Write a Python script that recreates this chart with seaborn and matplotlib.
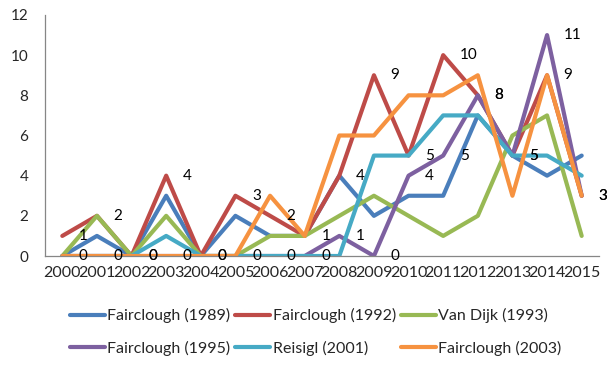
import pandas as pd
import matplotlib.pyplot as plt
import seaborn as sns
import numpy as np

# --- data ---
years = list(range(2000, 2016))
series_names = ["Fairclough (1989)", "Fairclough (1992)", "Van Dijk (1993)",
                "Fairclough (1995)", "Reisigl (2001)", "Fairclough (2003)"]

fairclough_1989 = [0, 1, 0, 3, 0, 2, 1, 1, 4, 2, 3, 3, 7, 5, 4, 5]
fairclough_1992 = [1, 2, 0, 4, 0, 3, 2, 1, 4, 9, 5, 10, 8, 5, 9, 3]
van_dijk_1993 = [0, 2, 0, 2, 0, 0, 1, 1, 2, 3, 2, 1, 2, 6, 7, 1]
fairclough_1995 = [0, 0, 0, 0, 0, 0, 0, 0, 1, 0, 4, 5, 8, 5, 11, 3]
reisigl_2001 = [0, 0, 0, 1, 0, 0, 0, 0, 0, 5, 5, 7, 7, 5, 5, 4]
fairclough_2003 = [0, 0, 0, 0, 0, 0, 3, 1, 6, 6, 8, 8, 9, 3, 9, 3]

colors = ["#4a7ebb", "#be4b48", "#98b954", "#7d60a0", "#46aac5", "#f69240"]

all_values = [fairclough_1989, fairclough_1992, van_dijk_1993,
              fairclough_1995, reisigl_2001, fairclough_2003]

# long-form table for seaborn
df = pd.concat([
    pd.DataFrame({"year": years, "count": vals, "series": name})
    for name, vals in zip(series_names, all_values)
], ignore_index=True)

sns.set_style("white")
plt.rcParams['font.family'] = ['Lato', 'DejaVu Sans']

fig = plt.figure(figsize=(6.09, 3.71), dpi=100)
ax = fig.add_axes([45 / 609, 1 - 256 / 371, 554 / 609, 241 / 371])

sns.lineplot(data=df, x="year", y="count", hue="series", hue_order=series_names,
             palette=colors, linewidth=3, ax=ax, legend=True)

# data labels for the two labelled series (Fairclough 1992 and 1995)
for vals in (fairclough_1992, fairclough_1995):
    for yr, v in zip(years, vals):
        ax.annotate(str(v), (yr, v), xytext=(12, 0), textcoords='offset points',
                    ha='left', va='center', fontsize=11, color='black')

ax.set_xlim(1999.5, 2015.5)
ax.set_ylim(0, 12)
ax.set_yticks(range(0, 13, 2))
ax.set_xticks(years)
ax.set_xticklabels([str(y) for y in years], fontsize=11.5)
ax.tick_params(axis='y', labelsize=11, length=0, pad=12)
ax.tick_params(axis='x', length=0, pad=7)
ax.set_xlabel("")
ax.set_ylabel("")

for side in ("top", "right"):
    ax.spines[side].set_visible(False)
for side in ("left", "bottom"):
    ax.spines[side].set_color("#868686")
    ax.spines[side].set_linewidth(0.9)

handles, labels = ax.get_legend_handles_labels()
ax.get_legend().remove()
# matplotlib fills legend columns first; reorder so entries read row by row
order = [0, 3, 1, 4, 2, 5]
fig.legend([handles[i] for i in order], [labels[i] for i in order], ncol=3,
           loc='center', bbox_to_anchor=(0.518, 1 - 332 / 371),
           frameon=False, fontsize=11.5, handlelength=2.2, handletextpad=0.15,
           columnspacing=0.3, labelspacing=1.1, borderpad=0)

fig.savefig("out.png", dpi=100)
